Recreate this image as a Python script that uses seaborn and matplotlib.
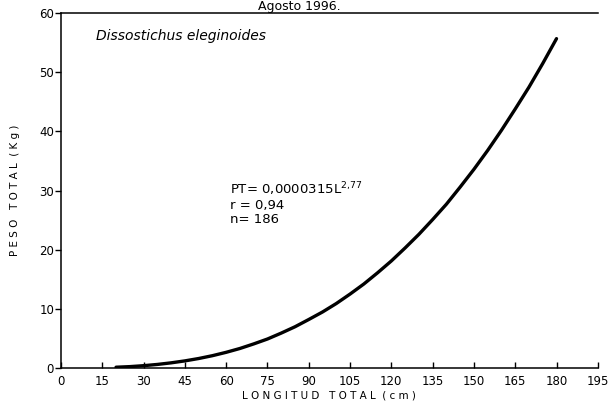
import numpy as np
import pandas as pd
import matplotlib.pyplot as plt
import seaborn as sns

# longitud total (cm) vs peso total (kg)
longitud = [20, 25, 30, 35, 40, 45, 50, 55, 60, 65, 70, 75, 80, 85, 90, 95,
            100, 105, 110, 115, 120, 125, 130, 135, 140, 145, 150, 155, 160,
            165, 170, 175, 180]
peso = [0.13, 0.23, 0.39, 0.60, 0.87, 1.2, 1.6, 2.08, 2.65, 3.3, 4.07, 4.9,
        5.9, 6.97, 8.2, 9.47, 10.9, 12.5, 14.2, 16.1, 18.1, 20.3, 22.6, 25.1,
        27.7, 30.6, 33.6, 36.8, 40.2, 43.8, 47.5, 51.5, 55.7]

x_ticks = list(range(0, 196, 15))
y_ticks = list(range(0, 61, 10))

data = pd.DataFrame({'longitud': longitud, 'peso': peso})

sns.set_style('ticks')
plt.rcParams['font.family'] = ['DejaVu Sans']
plt.rcParams['text.color'] = 'black'
plt.rcParams['axes.labelcolor'] = 'black'
plt.rcParams['xtick.color'] = 'black'
plt.rcParams['ytick.color'] = 'black'

fig = plt.figure(figsize=(6.1, 4.13), dpi=100)
ax = fig.add_axes([0.1, 0.109, 0.88, 0.859])

sns.lineplot(data=data, x='longitud', y='peso', color='black', linewidth=2.4, ax=ax)

ax.set_xlim(0, 195)
ax.set_ylim(0, 60)
ax.set_xticks(x_ticks)
ax.set_yticks(y_ticks)
ax.tick_params(axis='x', direction='in', length=4, width=1, labelsize=8.5, pad=5)
ax.tick_params(axis='y', direction='out', length=4, width=1, labelsize=8.5, pad=1)
ax.spines['right'].set_visible(False)
for s in ['left', 'bottom', 'top']:
    ax.spines[s].set_color('black')
    ax.spines[s].set_linewidth(1.1)

ax.set_xlabel('L O N G I T U D   T O T A L  ( c m )', fontsize=7.5, labelpad=2)
ax.set_ylabel('P E S O   T O T A L  ( K g )', fontsize=7.5, labelpad=14)

ax.text(0.065, 0.955, 'Dissostichus eleginoides', transform=ax.transAxes,
        fontsize=10, style='italic', va='top', ha='left')
ax.text(0.315, 0.53, 'PT= 0,0000315L$^{2{,}77}$\nr = 0,94\nn= 186',
        transform=ax.transAxes, fontsize=9.5, va='top', ha='left', linespacing=1.1)

fig.text(0.49, 0.999, 'Agosto 1996.', fontsize=9, ha='center', va='top')

fig.savefig('out.png', dpi=100)
